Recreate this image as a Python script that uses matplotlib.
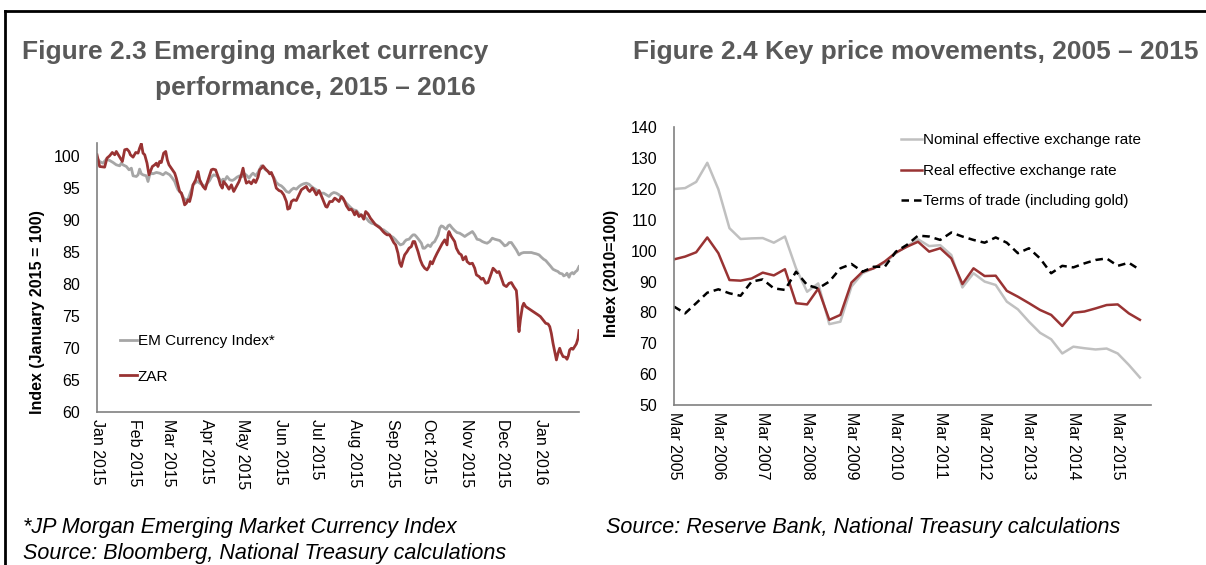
import numpy as np
import pandas as pd
import matplotlib
matplotlib.use("Agg")
import matplotlib.pyplot as plt
from matplotlib import font_manager

# font: narrow Arial look-alike if we have it
names = set(f.name for f in font_manager.fontManager.ttflist)
if "Liberation Sans Narrow" in names:
    narrow = "Liberation Sans Narrow"
else:
    narrow = "Liberation Sans"
plt.rcParams["font.family"] = [narrow, "DejaVu Sans"]

# ---- Figure 2.3 data (days after 1 Jan 2015, index Jan 2015 = 100) ----
zar_days = [0, 2.2, 6.3, 8.2, 10.4, 12.6, 14.6, 15.9, 18.7, 20.9, 22.8, 24.7, 26.4, 27.5, 29.7,
            31.9, 33.8, 35.1, 36.5, 37.9, 39.3, 41.2, 42.8, 43.9, 45.6, 47.5, 48.9, 50.2, 51.6,
            53.0, 54.9, 56.6, 57.9, 59.3, 61.2, 64.0, 65.3, 66.7, 68.1, 69.5, 70.8, 72.2, 73.6,
            75.0, 76.3, 77.7, 79.1, 81.3, 83.2, 84.6, 87.3, 89.2, 90.6, 92.8, 94.2, 95.6, 97.7,
            99.7, 101.6, 103.2, 104.3, 106.5, 108.7, 110.7, 112.6, 114.8, 117.0, 118.9, 120.3,
            121.6, 123.0, 125.2, 127.1, 129.1, 130.7, 132.6, 134.0, 135.4, 136.7, 138.9, 140.9,
            142.2, 143.6, 145.5, 147.7, 149.9, 151.8, 153.8, 156.0, 157.1, 158.7, 160.1, 162.0,
            164.2, 166.4, 168.3, 170.2, 172.4, 173.8, 175.2, 177.4, 178.5, 180.7, 182.9, 184.8,
            186.7, 188.4, 189.5, 191.7, 193.8, 195.8, 197.1, 199.3, 201.3, 202.6, 204.0, 205.4,
            207.6, 209.5, 210.9, 212.2, 213.6, 215.8, 217.7, 219.7, 221.3, 223.2, 225.2, 227.3,
            229.5, 231.5, 233.4, 235.6, 237.0, 238.9, 241.1, 242.5, 244.4, 246.0, 247.9, 249.3,
            250.7, 252.1, 253.4, 255.4, 257.0, 258.9, 260.3, 261.7, 263.0, 264.4, 266.3, 268.0,
            269.9, 271.8, 273.5, 274.6, 276.2, 278.1, 280.1, 282.3, 284.5, 286.4, 287.7, 288.3,
            289.1, 289.9, 291.9, 294.6, 296.0, 298.2, 300.1, 301.5, 303.7, 304.8, 307.0, 309.2,
            311.1, 312.5, 314.7, 316.6, 318.0, 320.2, 322.1, 323.4, 324.8, 326.2, 327.6, 329.5,
            331.1, 333.1, 335.0, 337.2, 339.4, 341.3, 343.2, 345.4, 346.2, 347.1, 347.6, 348.7,
            350.4, 351.5, 353.1, 355.1, 357.0, 359.2, 361.3, 363.3, 365.2, 367.4, 369.6, 371.5,
            372.9, 374.2, 375.6, 377.0, 378.4, 379.7, 381.1, 382.5, 383.9, 386.1, 387.1, 388.2,
            389.3, 390.7, 392.0, 393.4, 394.8, 396.2, 397.0]
zar = [100.16, 98.33, 98.23, 99.64, 100.0, 100.52, 100.16, 100.68, 99.79, 99.11, 100.94, 101.04,
       100.68, 100.16, 99.79, 100.52, 100.42, 101.2, 101.9, 100.42, 100.16, 98.85, 97.03, 97.55,
       98.33, 98.59, 98.85, 98.33, 99.11, 98.96, 100.42, 100.68, 99.38, 98.59, 98.07, 97.29,
       96.51, 95.47, 94.43, 94.17, 93.39, 92.34, 92.6, 93.13, 92.86, 93.91, 95.47, 96.25, 97.55,
       96.25, 95.21, 94.79, 95.73, 97.03, 97.81, 97.92, 97.81, 96.77, 95.47, 94.95, 95.99, 95.47,
       94.79, 95.47, 94.43, 95.21, 95.99, 97.03, 98.07, 96.77, 95.73, 95.99, 95.63, 96.25, 95.83,
       96.67, 97.81, 98.07, 98.44, 97.92, 97.55, 97.19, 97.40, 96.51, 94.95, 94.58, 94.43, 93.91,
       92.86, 91.67, 91.82, 92.86, 93.13, 93.02, 93.91, 94.69, 94.95, 95.21, 94.69, 94.43, 94.95,
       94.69, 93.91, 94.58, 93.75, 92.86, 92.08, 91.98, 92.86, 92.86, 93.39, 93.23, 92.86, 93.65,
       93.39, 92.86, 92.19, 91.56, 91.67, 91.3, 90.78, 91.3, 90.52, 90.78, 90.1, 91.3, 90.94,
       90.26, 89.74, 89.22, 88.96, 88.7, 88.18, 87.92, 87.66, 87.66, 87.14, 86.46, 86.09, 84.79,
       83.23, 82.71, 83.75, 84.53, 85.05, 85.57, 85.83, 86.61, 86.61, 85.83, 85.05, 83.75, 82.97,
       82.45, 82.19, 82.71, 83.49, 83.13, 84.01, 84.79, 85.57, 86.35, 86.88, 86.35, 86.09, 87.66,
       88.18, 87.4, 86.61, 85.57, 84.79, 84.53, 83.75, 84.27, 83.49, 83.13, 83.23, 82.45, 81.41,
       81.15, 80.73, 80.89, 80.1, 80.21, 80.89, 81.67, 82.45, 82.19, 81.77, 81.93, 80.89, 79.84,
       79.58, 80.1, 80.21, 79.58, 78.96, 77.24, 73.33, 72.55, 74.38, 76.46, 76.98, 76.46, 76.2,
       75.94, 75.68, 75.42, 75.16, 74.9, 74.38, 73.85, 73.75, 73.33, 72.29, 70.73, 69.43, 68.13,
       69.17, 69.95, 69.17, 68.65, 68.54, 68.23, 68.75, 69.69, 69.95, 69.79, 70.21, 70.63, 71.51,
       72.71]

em_days = [0, 2.2, 4.9, 7.7, 10.4, 13.2, 15.9, 18.7, 20.0, 21.4, 24.2, 26.4, 28.3, 29.7, 32.4,
           33.8, 35.1, 36.5, 37.9, 40.6, 42.0, 43.4, 44.8, 46.1, 48.9, 51.6, 54.4, 56.6, 58.5,
           59.9, 62.1, 64.0, 65.3, 66.7, 68.1, 69.5, 71.4, 73.0, 75.0, 76.3, 77.7, 79.1, 81.3,
           83.2, 84.6, 86.8, 88.7, 90.6, 92.8, 94.2, 96.1, 98.3, 100.5, 102.4, 103.8, 105.2,
           107.1, 109.3, 111.5, 113.4, 115.3, 117.5, 119.7, 121.6, 123.6, 125.2, 127.1, 128.5,
           130.7, 132.6, 134.0, 135.4, 136.7, 138.9, 140.9, 143.6, 145.5, 147.7, 149.9, 151.8,
           153.8, 156.0, 158.2, 160.1, 162.0, 164.2, 166.4, 168.3, 170.2, 172.4, 174.6, 176.6,
           178.5, 180.7, 182.9, 184.8, 186.7, 188.9, 191.1, 193.0, 195.0, 197.1, 199.3, 201.3,
           203.2, 205.4, 207.6, 209.5, 211.4, 213.6, 215.8, 217.7, 219.7, 221.8, 224.0, 226.0,
           227.9, 230.1, 232.3, 234.2, 236.1, 237.8, 239.7, 241.6, 243.8, 246.0, 247.9, 249.9,
           252.1, 253.4, 254.8, 257.0, 258.9, 260.3, 261.7, 263.0, 265.2, 267.2, 268.5, 269.9,
           271.3, 272.6, 274.6, 276.2, 278.1, 279.5, 280.9, 282.3, 283.6, 285.0, 286.4, 287.7,
           289.1, 290.5, 292.7, 294.6, 296.5, 298.7, 300.9, 302.9, 304.8, 307.0, 309.2, 311.1,
           313.0, 315.2, 317.4, 319.3, 321.3, 323.4, 325.6, 327.6, 329.5, 331.7, 333.9, 335.8,
           337.7, 339.4, 341.3, 343.2, 345.4, 347.6, 349.5, 351.5, 353.6, 355.8, 357.8, 359.7,
           361.9, 364.1, 366.0, 367.9, 369.6, 371.5, 373.4, 375.6, 377.8, 379.7, 381.1, 383.3,
           384.4, 386.1, 387.1, 388.8, 389.9, 391.5, 392.6, 394.3, 395.4, 397.0]
em = [99.64, 99.11, 98.85, 99.48, 99.27, 98.96, 98.59, 98.44, 98.85, 98.59, 98.33, 97.81, 98.07,
      96.88, 96.77, 97.03, 97.92, 97.19, 97.03, 96.88, 95.99, 97.03, 97.29, 97.19, 97.40, 97.29,
      97.03, 97.40, 97.19, 97.03, 96.51, 95.99, 95.31, 94.69, 94.43, 94.17, 93.39, 93.13, 93.23,
      93.91, 94.69, 95.47, 95.83, 95.99, 95.73, 95.47, 95.21, 95.63, 96.15, 96.67, 97.03, 96.88,
      96.51, 95.99, 96.36, 96.15, 96.77, 96.25, 96.15, 96.36, 96.67, 96.88, 96.77, 97.19, 96.88,
      96.51, 97.03, 97.29, 96.88, 97.40, 97.92, 98.44, 98.23, 97.81, 97.55, 97.19, 96.67, 95.83,
      95.47, 95.31, 94.95, 94.43, 94.27, 94.69, 94.95, 94.79, 95.21, 95.47, 95.63, 95.73, 95.57,
      95.21, 94.95, 94.69, 94.27, 94.17, 94.17, 93.91, 93.65, 94.06, 94.27, 94.17, 93.91, 93.54,
      93.13, 92.6, 92.19, 91.82, 91.56, 91.46, 90.94, 90.78, 90.52, 90.26, 89.74, 89.48, 89.37,
      89.22, 88.96, 88.54, 88.44, 88.18, 87.92, 87.5, 87.29, 86.88, 86.46, 86.09, 86.25, 86.61,
      86.88, 86.98, 87.4, 87.66, 87.66, 87.4, 86.88, 86.35, 85.57, 85.57, 85.83, 86.09, 85.83,
      86.35, 86.61, 87.14, 87.66, 88.7, 89.06, 88.96, 88.7, 88.54, 89.06, 89.22, 88.7, 88.33,
      88.02, 87.92, 87.66, 87.4, 87.66, 87.92, 88.18, 87.66, 86.98, 86.88, 86.61, 86.46, 86.35,
      86.61, 87.14, 86.98, 86.88, 86.77, 86.35, 85.94, 86.09, 86.46, 86.46, 85.94, 85.31, 84.53,
      84.79, 84.9, 84.9, 84.9, 84.9, 84.79, 84.69, 84.53, 84.17, 83.85, 83.65, 83.23, 82.81,
      82.29, 82.08, 81.93, 81.67, 81.56, 81.25, 81.41, 81.67, 81.04, 81.56, 81.77, 81.56, 81.93,
      82.08, 82.71]
month_ticks = pd.date_range("2015-01-01", "2016-01-01", freq="MS")

# ---- Figure 2.4 data (quarterly, Mar 2005 - Dec 2015, index 2010 = 100) ----
quarters = pd.period_range("2005Q1", "2015Q4", freq="Q")
nominal = [120.0, 120.3, 122.3, 128.5, 119.9, 107.3, 103.8, 104.0, 104.1, 102.6, 104.6, 94.3,
           86.7, 89.4, 76.2, 77.0, 88.4, 92.7, 94.3, 96.1, 99.2, 101.5, 103.7, 101.5, 101.8,
           98.6, 88.1, 92.7, 90.0, 88.9, 83.5, 81.0, 77.0, 73.4, 71.3, 66.7, 68.9, 68.4, 68.0,
           68.3, 66.7, 63.0, 58.9]
real = [97.2, 98.1, 99.5, 104.3, 99.2, 90.5, 90.3, 91.0, 92.9, 92.0, 94.0, 83.0, 82.6, 87.7,
        77.6, 79.2, 89.7, 93.2, 94.3, 96.5, 99.4, 101.3, 102.9, 99.7, 100.8, 97.5, 89.2, 94.3,
        91.8, 91.9, 87.0, 85.1, 83.0, 80.8, 79.2, 75.6, 79.9, 80.3, 81.3, 82.4, 82.6, 79.7, 77.6]
tot = [81.9, 79.7, 83.0, 86.4, 87.5, 86.2, 85.4, 90.0, 90.7, 87.8, 87.3, 93.2, 88.9, 87.8, 90.0,
       94.3, 95.7, 93.2, 94.8, 94.8, 99.7, 101.9, 104.9, 104.6, 103.5, 105.9, 104.6, 103.5,
       102.6, 104.3, 102.6, 99.2, 100.8, 97.5, 92.7, 95.1, 94.6, 95.9, 97.0, 97.5, 95.1, 96.1,
       93.8]
q_labels = ["Mar 2005", "Mar 2006", "Mar 2007", "Mar 2008", "Mar 2009", "Mar 2010",
            "Mar 2011", "Mar 2012", "Mar 2013", "Mar 2014", "Mar 2015"]

# colours
title_grey = "#595959"
red = "#993333"
em_grey = "#a6a6a6"
nom_grey = "#c0c0c0"
spine_grey = "#808080"

fig = plt.figure(figsize=(12.06, 5.65), dpi=100)

# frame lines top and left
fig.add_artist(plt.Line2D([5 / 1206, 1], [1 - 11 / 565, 1 - 11 / 565], color="black", lw=2))
fig.add_artist(plt.Line2D([5 / 1206, 5 / 1206], [0, 1 - 11 / 565], color="black", lw=2))

# titles
fig.text(22 / 1206, 1 - 52 / 565, "Figure 2.3 Emerging market currency", fontsize=19,
         fontweight="bold", color=title_grey, va="center", ha="left")
fig.text(155 / 1206, 1 - 88 / 565, "performance, 2015 \u2013 2016", fontsize=19,
         fontweight="bold", color=title_grey, va="center", ha="left")
fig.text(633 / 1206, 1 - 52 / 565, "Figure 2.4 Key price movements, 2005 \u2013 2015", fontsize=19,
         fontweight="bold", color=title_grey, va="center", ha="left")

# ---------- left chart ----------
ax1 = fig.add_axes([97 / 1206, 1 - 412 / 565, (579 - 97) / 1206, (412 - 143) / 565])
start = pd.Timestamp("2015-01-01")
zar_dates = start + pd.to_timedelta(zar_days, unit="D")
em_dates = start + pd.to_timedelta(em_days, unit="D")
ax1.plot(em_dates, em, color=em_grey, lw=2, label="EM Currency Index*")
ax1.plot(zar_dates, zar, color=red, lw=2, label="ZAR")
ax1.set_ylim(60, 102)
ax1.set_yticks(np.arange(60, 101, 5))
ax1.set_xlim(start, start + pd.Timedelta(days=397))
ax1.set_xticks(month_ticks)
ax1.set_xticklabels([d.strftime("%b %Y") for d in month_ticks])
ax1.set_ylabel("Index (January 2015 = 100)", fontsize=11.5, fontweight="bold")
ax1.yaxis.set_label_coords(-0.108, 0.372)
leg1 = ax1.legend(loc="upper left", bbox_to_anchor=(0.035, 0.312), frameon=False, fontsize=11,
                  handlelength=1.1, handletextpad=0.05, labelspacing=1.4, borderaxespad=0)

# ---------- right chart ----------
ax2 = fig.add_axes([674 / 1206, 1 - 405 / 565, (1151 - 674) / 1206, (405 - 127.3) / 565])
xq = np.arange(len(nominal))
ax2.plot(xq, nominal, color=nom_grey, lw=1.8, label="Nominal effective exchange rate")
ax2.plot(xq, real, color=red, lw=1.8, label="Real effective exchange rate")
ax2.plot(xq, tot, color="black", lw=1.8, ls=(0, (3, 2)), label="Terms of trade (including gold)")
ax2.set_xlim(0, len(quarters) - 1)
ax2.set_ylim(50, 140)
ax2.set_yticks(np.arange(50, 141, 10))
ax2.set_xticks(np.arange(0, len(quarters), 4))
ax2.set_xticklabels(q_labels)
ax2.set_ylabel("Index (2010=100)", fontsize=11.4, fontweight="bold")
ax2.yaxis.set_label_coords(-0.115, 0.472)
leg2 = ax2.legend(loc="upper left", bbox_to_anchor=(0.463, 1.0), frameon=False, fontsize=11,
                  handlelength=1.37, handletextpad=0.05, labelspacing=1.08, borderaxespad=0)

for ax in (ax1, ax2):
    for s in ("top", "right"):
        ax.spines[s].set_visible(False)
    for s in ("left", "bottom"):
        ax.spines[s].set_color(spine_grey)
        ax.spines[s].set_linewidth(1.2)
    ax.tick_params(length=0, labelsize=11.5)
    ax.tick_params(axis="y", pad=12)
    ax.tick_params(axis="x", pad=5)
    for t in ax.get_xticklabels():
        t.set_rotation(270)
        t.set_va("top")
        t.set_ha("center")

# footnotes
fig.text(23 / 1206, 1 - 527 / 565, "*JP Morgan Emerging Market Currency Index", fontsize=15.5,
         style="italic", va="center", ha="left")
fig.text(23 / 1206, 1 - 553 / 565, "Source: Bloomberg, National Treasury calculations", fontsize=15.5,
         style="italic", va="center", ha="left")
fig.text(606 / 1206, 1 - 527 / 565, "Source: Reserve Bank, National Treasury calculations", fontsize=15.5,
         style="italic", va="center", ha="left")

fig.savefig("out.png", dpi=100)
